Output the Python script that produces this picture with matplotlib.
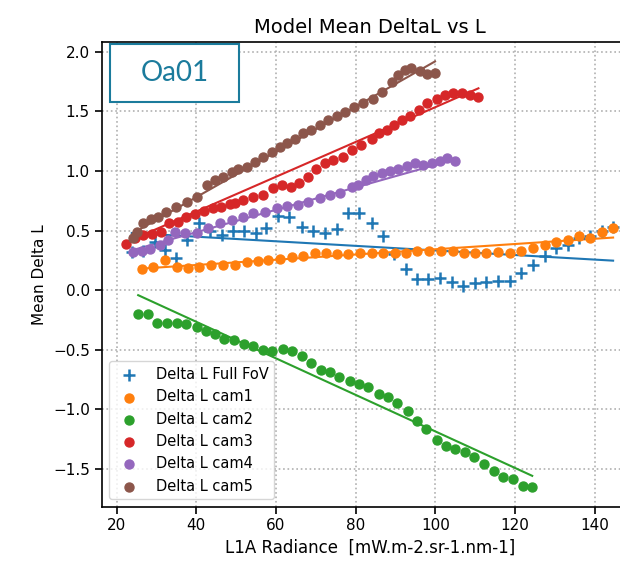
import matplotlib
matplotlib.use("Agg")
import matplotlib.pyplot as plt
from matplotlib.patches import Rectangle
import numpy as np

# Binned mean DeltaL per radiance bin, full field of view and per camera
fov_x = [23.8, 26.7, 29.5, 32.1, 34.9, 37.7, 40.7, 43.4, 46.5, 49.3, 52.0, 54.9, 57.6, 60.5,
         63.3, 66.4, 69.2, 72.3, 75.2, 78.1, 80.9, 84.0, 86.8, 89.7, 92.6, 95.4, 98.2, 101.1,
         104.1, 106.9, 109.9, 112.8, 115.8, 118.7, 121.6, 124.4, 127.5, 130.2, 133.3, 136.1,
         138.9, 141.9, 144.6]
fov_y = [0.32, 0.33, 0.40, 0.336, 0.272, 0.42, 0.56, 0.50, 0.46, 0.50, 0.50, 0.48, 0.52, 0.62,
         0.61, 0.53, 0.50, 0.48, 0.51, 0.645, 0.645, 0.565, 0.45, 0.30, 0.18, 0.09, 0.09, 0.10,
         0.07, 0.035, 0.057, 0.07, 0.076, 0.076, 0.14, 0.21, 0.286, 0.35, 0.38, 0.435,
         0.45, 0.50, 0.53]

cam1_x = [26.3, 29.2, 32.1, 35.1, 38.0, 40.7, 43.8, 46.8, 49.7, 52.6, 55.5, 58.0, 61.0, 63.9,
          66.8, 69.8, 72.5, 75.4, 78.1, 81.0, 84.0, 86.8, 89.8, 92.6, 95.5, 98.4, 101.4, 104.3,
          107.2, 109.9, 112.8, 115.8, 118.7, 121.6, 124.4, 127.5, 130.2, 133.3, 136.1, 138.9,
          141.9, 144.6]
cam1_y = [0.174, 0.196, 0.25, 0.19, 0.183, 0.19, 0.21, 0.21, 0.21, 0.238, 0.247, 0.25, 0.26, 0.28,
          0.286, 0.314, 0.314, 0.30, 0.30, 0.314, 0.314, 0.314, 0.314, 0.314, 0.328, 0.328, 0.328,
          0.328, 0.314, 0.314, 0.314, 0.322, 0.314, 0.328, 0.35, 0.378, 0.40, 0.42, 0.45, 0.44,
          0.49, 0.52]

cam2_x = [25.4, 27.8, 30.2, 32.7, 35.1, 37.4, 40.1, 42.4, 44.7, 47.0, 49.5, 51.9, 54.3, 56.8,
          59.1, 61.7, 64.1, 66.4, 68.9, 71.3, 73.5, 75.9, 78.5, 80.8, 83.1, 85.8, 88.2, 90.4,
          93.0, 95.3, 97.6, 100.3, 102.6, 104.9, 107.4, 109.7, 112.2, 114.7, 117.0, 119.4,
          121.9, 124.3]
cam2_y = [-0.20, -0.20, -0.279, -0.279, -0.279, -0.285, -0.31, -0.34, -0.37, -0.41, -0.42, -0.45,
          -0.47, -0.50, -0.51, -0.49, -0.51, -0.55, -0.61, -0.67, -0.69, -0.73, -0.765, -0.785,
          -0.815, -0.87, -0.894, -0.945, -1.014, -1.10, -1.168, -1.258, -1.305, -1.333, -1.36,
          -1.40, -1.46, -1.52, -1.565, -1.585, -1.643, -1.65]

cam3_x = [22.3, 24.6, 26.7, 28.8, 31.1, 33.1, 35.3, 37.5, 39.7, 41.9, 44.1, 46.3, 48.5, 49.6,
          51.8, 54.3, 56.8, 59.3, 61.4, 63.7, 65.8, 68.1, 70.0, 72.3, 74.4, 76.7, 79.0, 81.4,
          84.0, 85.9, 87.8, 89.6, 91.5, 93.6, 95.9, 97.9, 100.3, 102.4, 104.5, 106.6, 108.8,
          110.8]
cam3_y = [0.39, 0.435, 0.46, 0.475, 0.49, 0.56, 0.57, 0.61, 0.64, 0.66, 0.69, 0.70, 0.72, 0.73,
          0.757, 0.784, 0.80, 0.854, 0.88, 0.867, 0.896, 0.946, 1.02, 1.064, 1.09, 1.12, 1.175,
          1.22, 1.265, 1.315, 1.343, 1.385, 1.427, 1.46, 1.51, 1.567, 1.60, 1.637, 1.65, 1.65,
          1.637, 1.62]

cam4_x = [24.2, 26.3, 28.4, 30.9, 33.0, 34.6, 37.1, 40.1, 43.0, 45.9, 48.9, 51.8, 54.3, 57.2,
          60.2, 62.7, 65.6, 68.1, 71.1, 73.5, 76.0, 79.0, 80.6, 82.5, 84.4, 86.5, 88.6, 90.7,
          92.8, 94.9, 97.0, 99.1, 101.1, 102.8, 104.9]
cam4_y = [0.322, 0.33, 0.342, 0.378, 0.42, 0.49, 0.476, 0.476, 0.518, 0.56, 0.588, 0.616, 0.644,
          0.658, 0.686, 0.705, 0.714, 0.742, 0.77, 0.798, 0.817, 0.867, 0.88, 0.92, 0.955, 0.98,
          1.0, 1.02, 1.04, 1.07, 1.05, 1.064, 1.083, 1.105, 1.083]

cam5_x = [24.0, 25.0, 26.7, 28.5, 30.4, 32.5, 35.0, 37.6, 40.1, 42.6, 44.7, 46.8, 48.9, 50.5,
          52.6, 54.7, 56.8, 58.9, 61.0, 62.7, 64.8, 66.8, 68.9, 71.0, 73.1, 75.2, 77.3, 79.6,
          81.9, 84.4, 86.5, 89.0, 90.7, 92.3, 94.0, 96.1, 97.9, 99.9]
cam5_y = [0.44, 0.49, 0.56, 0.594, 0.616, 0.658, 0.70, 0.742, 0.784, 0.882, 0.924, 0.951, 0.993,
          1.02, 1.035, 1.077, 1.12, 1.16, 1.20, 1.23, 1.27, 1.315, 1.343, 1.385, 1.427, 1.46,
          1.496, 1.538, 1.566, 1.60, 1.665, 1.743, 1.805, 1.85, 1.86, 1.84, 1.81, 1.825]

labels = ["Delta L Full FoV", "Delta L cam1", "Delta L cam2",
          "Delta L cam3", "Delta L cam4", "Delta L cam5"]

# linear fit coefficients (slope, intercept) for each series
fit_slope = [-0.00192, 0.0022, -0.01532, 0.0146, 0.0094, 0.0190]
fit_intercept = [0.525, 0.123, 0.347, 0.075, 0.11, 0.02]

series = [(fov_x, fov_y), (cam1_x, cam1_y), (cam2_x, cam2_y),
          (cam3_x, cam3_y), (cam4_x, cam4_y), (cam5_x, cam5_y)]

fig = plt.figure(figsize=(6.2, 5.66), dpi=100)
ax = fig.add_axes([0.164, 0.1048, 0.866, 0.8216])

for i, ((x, y), lab) in enumerate(zip(series, labels)):
    col = "C%d" % i
    if i == 0:
        ax.scatter(x, y, marker="+", s=75, color=col, linewidths=1.8, label=lab, zorder=3)
    else:
        ax.scatter(x, y, s=42, color=col, label=lab, zorder=3)
    xs = np.array([min(x), max(x)])
    ax.plot(xs, fit_slope[i] * xs + fit_intercept[i], color=col, lw=1.5, zorder=2)

ax.set_xlim(16.24, 151)
ax.set_ylim(-1.816, 2.084)
ax.set_xticks([20, 40, 60, 80, 100, 120, 140])
ax.grid(True, linestyle=":", color="#b0b0b0", linewidth=1.2)
ax.tick_params(labelsize=11, length=5, width=1.2)
for sp in ax.spines.values():
    sp.set_linewidth(1.2)

ax.set_title("Model Mean DeltaL vs L", fontsize=14)
ax.set_xlabel("L1A Radiance  [mW.m-2.sr-1.nm-1]", fontsize=12)
ax.set_ylabel("Mean Delta L", fontsize=11)
ax.legend(loc="lower left", fontsize=10.5)

# channel tag in the top left corner
teal = "#1b7b9c"
fig.patches.append(Rectangle((110 / 620, 1 - 102 / 566), 129 / 620, 58 / 566,
                             transform=fig.transFigure, facecolor="white",
                             edgecolor=teal, linewidth=1.5, zorder=10))
fig.text(174.5 / 620, 1 - 73 / 566, "Oa01", color=teal, fontsize=20, family="Lato",
         ha="center", va="center", zorder=11)

fig.savefig("out.png", dpi=100)
